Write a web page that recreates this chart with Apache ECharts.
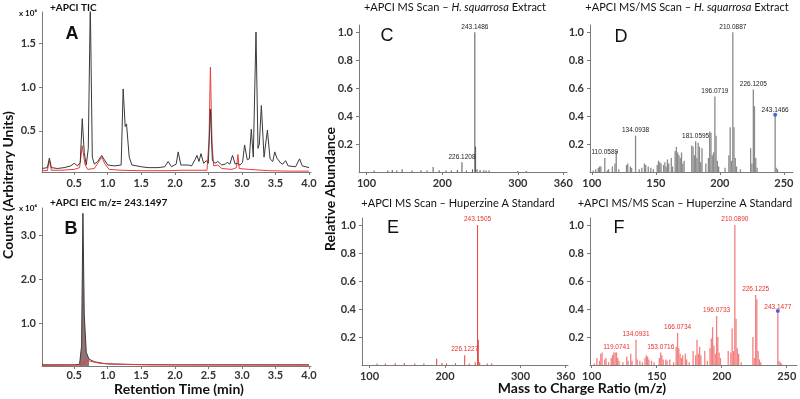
<!DOCTYPE html>
<html>
<head>
<meta charset="utf-8">
<script src="https://cdn.jsdelivr.net/npm/echarts@6/dist/echarts.min.js"></script>
<style>
  html, body { margin: 0; padding: 0; background: #fff; }
  #chart { width: 800px; height: 399px; }
</style>
</head>
<body>
<div id="chart"></div>
<script>
// A: TIC (x 10^6 counts)
const ticTime = [0.02, 0.10, 0.13, 0.16, 0.25, 0.35, 0.45, 0.50, 0.55, 0.59, 0.62, 0.65, 0.68, 0.71, 0.74, 0.77, 0.80, 0.85, 0.91, 0.95, 1.00, 1.10, 1.20, 1.23, 1.26, 1.28, 1.32, 1.36, 1.50, 1.60, 1.75, 1.85, 1.90, 1.95, 2.02, 2.05, 2.09, 2.20, 2.25, 2.30, 2.33, 2.36, 2.39, 2.43, 2.47, 2.50, 2.53, 2.56, 2.60, 2.64, 2.70, 2.75, 2.78, 2.82, 2.86, 2.90, 2.93, 2.97, 3.01, 3.04, 3.08, 3.11, 3.14, 3.17, 3.21, 3.24, 3.26, 3.29, 3.33, 3.35, 3.38, 3.42, 3.46, 3.49, 3.52, 3.54, 3.58, 3.61, 3.65, 3.69, 3.80, 3.86, 3.90, 4.00];
const ticBlack = [0.07, 0.08, 0.19, 0.08, 0.07, 0.08, 0.10, 0.13, 0.10, 0.14, 0.64, 0.25, 0.11, 0.30, 1.95, 0.20, 0.12, 0.15, 0.22, 0.17, 0.11, 0.10, 0.11, 0.98, 0.55, 0.58, 0.20, 0.11, 0.09, 0.08, 0.08, 0.09, 0.15, 0.09, 0.12, 0.26, 0.11, 0.11, 0.10, 0.17, 0.22, 0.15, 0.24, 0.13, 0.16, 0.13, 0.75, 0.16, 0.13, 0.15, 0.11, 0.12, 0.14, 0.12, 0.22, 0.12, 0.13, 0.11, 0.14, 0.34, 0.17, 0.18, 0.52, 0.20, 1.63, 0.30, 0.35, 0.79, 0.20, 0.22, 0.51, 0.18, 0.15, 0.26, 0.19, 0.21, 0.13, 0.12, 0.16, 0.10, 0.09, 0.18, 0.10, 0.08];
const ticRedTime = [0.02, 0.10, 0.13, 0.16, 0.30, 0.50, 0.58, 0.62, 0.66, 0.70, 0.80, 0.86, 0.91, 0.96, 1.02, 1.20, 1.50, 1.90, 2.10, 2.35, 2.48, 2.51, 2.53, 2.555, 2.58, 2.64, 2.70, 2.85, 2.92, 2.94, 2.96, 3.10, 3.40, 3.70, 4.00];
const ticRed = [0.045, 0.045, 0.16, 0.05, 0.05, 0.06, 0.08, 0.33, 0.12, 0.06, 0.07, 0.14, 0.20, 0.12, 0.06, 0.05, 0.045, 0.045, 0.05, 0.05, 0.05, 0.40, 1.23, 0.35, 0.10, 0.11, 0.07, 0.06, 0.08, 0.23, 0.07, 0.06, 0.045, 0.04, 0.04];

// B: EIC m/z 243.1497 (x 10^6 counts)
const eicTime = [0.02, 0.50, 0.58, 0.61, 0.63, 0.65, 0.68, 0.72, 0.80, 0.90, 1.00, 1.50, 2.00, 2.50, 3.00, 4.00];
const eicBlack = [0.07, 0.07, 0.08, 0.50, 3.50, 1.20, 0.35, 0.20, 0.14, 0.11, 0.09, 0.075, 0.07, 0.07, 0.07, 0.07];
const eicRedTime = [0.02, 0.58, 0.62, 0.67, 0.72, 0.80, 0.90, 1.20, 1.60, 2.50, 4.00];
const eicRed = [0.055, 0.06, 0.10, 0.15, 0.16, 0.13, 0.10, 0.08, 0.07, 0.065, 0.06];

// C: MS scan, H. squarrosa extract
const cMz = [110, 128, 134, 140, 147, 160, 172, 180, 188, 196, 205, 212, 220, 226.1208, 232, 240, 243.1486, 244.15, 246, 250, 255, 258, 262, 300, 311];
const cAbund = [0.01, 0.01, 0.015, 0.01, 0.02, 0.01, 0.012, 0.01, 0.035, 0.012, 0.01, 0.01, 0.015, 0.07, 0.01, 0.02, 1.0, 0.18, 0.02, 0.015, 0.012, 0.01, 0.01, 0.008, 0.008];
const cLabeled = [226.1208, 243.1486];

// D: MS/MS scan, H. squarrosa extract
const dMz = [101, 103, 105, 106, 107, 110.0589, 112, 113, 116, 118, 119, 121, 127, 128, 130, 131, 134.0938, 137, 139, 141, 142, 144, 146, 148, 151, 152, 153, 154, 156, 157, 158, 159, 160, 162, 163, 165, 166, 167, 168, 169, 170, 171, 172, 178, 179, 180, 181.0595, 182, 183, 184, 185, 186, 189, 191, 192, 193, 194, 195, 196.0719, 197, 198, 199, 204, 207, 208, 209, 210.0887, 211, 212, 213, 216, 224, 225, 226.1205, 227, 228, 229, 243.1466, 244, 245];
const dAbund = [0.01, 0.02, 0.03, 0.04, 0.04, 0.10, 0.01, 0.02, 0.04, 0.06, 0.15, 0.02, 0.05, 0.06, 0.04, 0.03, 0.26, 0.02, 0.03, 0.06, 0.05, 0.04, 0.03, 0.02, 0.05, 0.08, 0.07, 0.06, 0.05, 0.07, 0.04, 0.09, 0.06, 0.10, 0.04, 0.15, 0.18, 0.14, 0.12, 0.10, 0.14, 0.06, 0.08, 0.19, 0.18, 0.12, 0.22, 0.10, 0.21, 0.18, 0.07, 0.17, 0.06, 0.10, 0.29, 0.28, 0.12, 0.14, 0.54, 0.26, 0.08, 0.04, 0.03, 0.12, 0.32, 0.08, 1.0, 0.32, 0.10, 0.04, 0.02, 0.17, 0.06, 0.59, 0.47, 0.10, 0.03, 0.40, 0.03, 0.02];
const dLabeled = [110.0589, 134.0938, 181.0595, 196.0719, 210.0887, 226.1205, 243.1466];
const dPrecursor = [243.1466, 0.41];

// E: MS scan, Huperzine A standard
const eMz = [110, 121, 134, 146, 160, 172, 189, 196, 202, 214, 226.1227, 232, 240, 243.1505, 244.15, 246, 256, 262];
const eAbund = [0.01, 0.01, 0.012, 0.015, 0.01, 0.01, 0.045, 0.015, 0.01, 0.012, 0.07, 0.01, 0.02, 1.0, 0.18, 0.02, 0.01, 0.01];
const eLabeled = [226.1227, 243.1505];

// F: MS/MS scan, Huperzine A standard
const fMz = [102, 104, 106, 107, 108, 110, 111, 113, 115, 116, 117, 118, 119.0741, 120, 121, 124, 127, 128, 130, 131, 134.0931, 135, 137, 139, 141, 142, 143, 144, 146, 148, 152, 153.0716, 154, 155, 157, 158, 160, 163, 165, 166.0734, 167, 168, 169, 170, 172, 173, 175, 178, 180, 181, 182, 183, 184, 187, 189, 191, 192, 193, 194, 195, 196.0733, 197, 198, 199, 205, 207, 208, 209, 210.089, 211, 212, 213, 215, 224, 225, 226.1225, 227, 228, 229, 230, 243.1477, 244, 245, 246];
const fAbund = [0.01, 0.05, 0.03, 0.08, 0.09, 0.04, 0.05, 0.02, 0.05, 0.07, 0.09, 0.09, 0.09, 0.05, 0.03, 0.02, 0.06, 0.03, 0.08, 0.03, 0.18, 0.04, 0.03, 0.02, 0.05, 0.07, 0.06, 0.04, 0.03, 0.02, 0.05, 0.09, 0.07, 0.04, 0.04, 0.03, 0.04, 0.02, 0.13, 0.23, 0.12, 0.08, 0.05, 0.07, 0.08, 0.04, 0.02, 0.10, 0.07, 0.18, 0.08, 0.13, 0.07, 0.10, 0.03, 0.12, 0.19, 0.27, 0.14, 0.08, 0.35, 0.20, 0.09, 0.05, 0.10, 0.09, 0.26, 0.10, 1.0, 0.33, 0.12, 0.08, 0.02, 0.20, 0.05, 0.50, 0.47, 0.10, 0.04, 0.02, 0.37, 0.03, 0.02, 0.01];
const fLabeled = [119.0741, 134.0931, 153.0716, 166.0734, 196.0733, 210.089, 226.1225, 243.1477];
const fPrecursor = [243.1477, 0.385];

const rtTicks = [0.5, 1.0, 1.5, 2.0, 2.5, 3.0, 3.5, 4.0];
const ticYTicks = [0.5, 1.0, 1.5];
const eicYTicks = [1.0, 2.0, 3.0];
const msTicks = [100, 200, 300, 360];
const msmsTicks = [100, 150, 200, 250];
const abundTicks = [0.2, 0.4, 0.6, 0.8, 1.0];

const pairs = (xs, ys) => xs.map((x, i) => [x, ys[i]]);

function sticks(mz, ab, labeled, labelColor) {
  return mz.map((m, i) => {
    const item = { value: [m, ab[i]] };
    if (labeled.includes(m)) {
      item.label = {
        show: true, position: 'top', distance: 2,
        formatter: m.toFixed(4), color: labelColor,
        fontSize: 6.5, fontFamily: 'Liberation Sans'
      };
    }
    return item;
  });
}

const axisCol = '#7a7a7a';
const tickFont = { color: '#333', fontSize: 11, fontWeight: 'bold', fontFamily: 'Lato' };

function xAx(grid, min, max, ticks, fmt, margin) {
  return {
    type: 'value', gridIndex: grid, min: min, max: max,
    axisLine: { lineStyle: { color: axisCol } },
    axisTick: { show: true, length: 3, customValues: ticks, lineStyle: { color: axisCol } },
    axisLabel: Object.assign({ customValues: ticks, margin: margin || 6, formatter: fmt }, tickFont),
    splitLine: { show: false }
  };
}
function yAx(grid, min, max, ticks) {
  return {
    type: 'value', gridIndex: grid, min: min, max: max,
    axisLine: { show: true, lineStyle: { color: axisCol } },
    axisTick: { show: true, length: 3, customValues: ticks, lineStyle: { color: axisCol } },
    axisLabel: Object.assign({ customValues: ticks, margin: 6, formatter: v => v.toFixed(1) }, tickFont),
    splitLine: { show: false }
  };
}

const fixed1 = v => v.toFixed(1);
const plain = v => String(v);

const chart = echarts.init(document.getElementById('chart'));

const txt = (x, y, text, size, opts) => ({
  type: 'text', x: x, y: y, rotation: (opts && opts.rot) || 0,
  style: Object.assign({
    text: text, fill: '#111', fontSize: size, fontFamily: 'Lato',
    textAlign: 'center', textVerticalAlign: 'middle'
  }, (opts && opts.style) || {})
});
const italicRich = { i: { fontStyle: 'italic', fontSize: 11, fontFamily: 'Lato', fill: '#111' } };
const bold = { style: { fontWeight: 'bold' } };

const option = {
  animation: false,
  backgroundColor: '#fff',
  grid: [
    { left: 42, right: 489, top: 12, bottom: 227 },
    { left: 42, right: 489, top: 208, bottom: 33 },
    { left: 359, right: 233, top: 25, bottom: 227 },
    { left: 590, right: 7, top: 25, bottom: 227 },
    { left: 362, right: 232, top: 218, bottom: 34 },
    { left: 590, right: 3, top: 218, bottom: 34 }
  ],
  xAxis: [
    xAx(0, 0.02, 4.03, rtTicks, fixed1),
    xAx(1, 0.02, 4.03, rtTicks, fixed1, 4),
    xAx(2, 90, 365, msTicks, plain),
    xAx(3, 98.5, 257.1, msmsTicks, plain),
    xAx(4, 90, 363, msTicks, plain),
    xAx(5, 98.7, 257.9, msmsTicks, plain)
  ],
  yAxis: [
    yAx(0, 0.03, 1.86, ticYTicks),
    yAx(1, 0.043, 3.62, eicYTicks),
    yAx(2, 0, 1.052, abundTicks),
    yAx(3, 0, 1.052, abundTicks),
    yAx(4, 0, 1.05, abundTicks),
    yAx(5, 0, 1.05, abundTicks)
  ],
  series: [
    { type: 'line', xAxisIndex: 0, yAxisIndex: 0, data: pairs(ticTime, ticBlack),
      symbol: 'none', lineStyle: { color: '#3a3a3a', width: 1 }, z: 3 },
    { type: 'line', xAxisIndex: 0, yAxisIndex: 0, data: pairs(ticRedTime, ticRed),
      symbol: 'none', lineStyle: { color: '#ee3b3b', width: 1 }, z: 2 },
    // EIC peak fill (peak region only)
    { type: 'line', xAxisIndex: 1, yAxisIndex: 1, data: pairs(eicTime.slice(2, 8), eicBlack.slice(2, 8)),
      symbol: 'none', lineStyle: { width: 0 },
      areaStyle: { color: '#8c6262', opacity: 0.9 }, z: 1 },
    { type: 'line', xAxisIndex: 1, yAxisIndex: 1, data: pairs(eicTime, eicBlack),
      symbol: 'none', lineStyle: { color: '#3a3a3a', width: 1 }, z: 2 },
    { type: 'line', xAxisIndex: 1, yAxisIndex: 1, data: pairs(eicRedTime, eicRed),
      symbol: 'none', lineStyle: { color: '#ee3b3b', width: 1 }, z: 3 },
    { type: 'bar', xAxisIndex: 2, yAxisIndex: 2, barWidth: 1,
      data: sticks(cMz, cAbund, cLabeled, '#222'), itemStyle: { color: '#555' } },
    { type: 'bar', xAxisIndex: 3, yAxisIndex: 3, barWidth: 1.3,
      data: sticks(dMz, dAbund, dLabeled, '#222'), itemStyle: { color: '#8a8a8a' } },
    { type: 'scatter', xAxisIndex: 3, yAxisIndex: 3, data: [dPrecursor],
      symbolSize: 4, itemStyle: { color: '#1f3bd6' }, z: 5 },
    { type: 'bar', xAxisIndex: 4, yAxisIndex: 4, barWidth: 1,
      data: sticks(eMz, eAbund, eLabeled, '#e8302a'), itemStyle: { color: '#e8403a' } },
    { type: 'bar', xAxisIndex: 5, yAxisIndex: 5, barWidth: 1.3,
      data: sticks(fMz, fAbund, fLabeled, '#e8302a'), itemStyle: { color: '#f38080' } },
    { type: 'scatter', xAxisIndex: 5, yAxisIndex: 5, data: [fPrecursor],
      symbolSize: 4, itemStyle: { color: '#1f3bd6' }, z: 5 }
  ],
  graphic: [
    txt(50, 8, '+APCI TIC', 10, { style: { textAlign: 'left', fontWeight: 'bold' } }),
    txt(19, 13, 'x 10⁶', 8, { style: { textAlign: 'left', fontWeight: 'bold' } }),
    txt(72, 34, 'A', 18, { style: { fontFamily: 'Liberation Sans', fontWeight: 'bold' } }),
    txt(50, 203, '+APCI EIC m/z= 243.1497', 10, { style: { textAlign: 'left', fontWeight: 'bold' } }),
    txt(19, 208, 'x 10⁶', 8, { style: { textAlign: 'left', fontWeight: 'bold' } }),
    txt(71, 229, 'B', 18, { style: { fontFamily: 'Liberation Sans', fontWeight: 'bold' } }),
    txt(455, 7, '+APCI MS Scan – {i|H. squarrosa} Extract', 11, { style: { rich: italicRich } }),
    txt(687, 7, '+APCI MS/MS Scan – {i|H. squarrosa} Extract', 11, { style: { rich: italicRich } }),
    txt(458, 203, '+APCI MS Scan – Huperzine A Standard', 11),
    txt(685, 203, '+APCI MS/MS Scan – Huperzine A Standard', 11),
    txt(387, 36, 'C', 18, { style: { fontFamily: 'Liberation Sans' } }),
    txt(621, 37, 'D', 18, { style: { fontFamily: 'Liberation Sans' } }),
    txt(393, 228, 'E', 18, { style: { fontFamily: 'Liberation Sans' } }),
    txt(619, 228, 'F', 18, { style: { fontFamily: 'Liberation Sans' } }),
    txt(8, 185, 'Counts (Arbitrary Units)', 14, { rot: Math.PI / 2, style: { fontWeight: 'bold' } }),
    txt(179, 389, 'Retention Time (min)', 14, bold),
    txt(330, 189, 'Relative Abundance', 14, { rot: Math.PI / 2, style: { fontWeight: 'bold' } }),
    txt(582, 388, 'Mass to Charge Ratio (m/z)', 14, bold)
  ]
};

chart.setOption(option);
</script>
</body>
</html>
